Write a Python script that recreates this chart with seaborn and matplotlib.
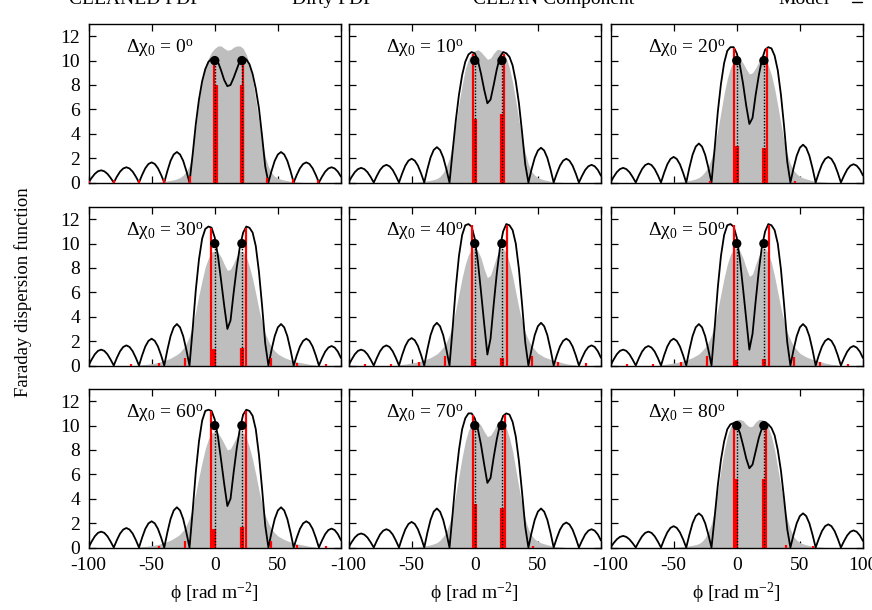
import numpy as np
import matplotlib
matplotlib.use("Agg")
import matplotlib.pyplot as plt
import seaborn as sns

# Faraday depth grids
phi = np.arange(-100, 100.1, 2.5)          # dirty FDF grid (81 points)
phi_cl = np.arange(-60, 80.1, 2.5)         # cleaned FDF grid (57 points)

dchi = [0, 10, 20, 30, 40, 50, 60, 70, 80]
xtick_vals = [-100, -50, 0, 50, 100]
xtick_labels_inner = ["-100", "-50", "0", "50", ""]
xtick_labels_last = ["-100", "-50", "0", "50", "100"]

# Dirty FDF (black line)
dirty_00 = [0, .38, .71, .92, 1.0, .92, .71, .38,
            0, .48, .89, 1.15, 1.25, 1.15, .89, .48,
            0, .63, 1.17, 1.52, 1.65, 1.52, 1.17, .63,
            0, .95, 1.78, 2.3, 2.5, 2.3, 1.78, .95,
            0, 2.3, 4.8, 6.8, 8.3, 9.3, 9.9, 10.15, 10.2, 9.9, 9.2, 8.4, 7.9,
            8.0, 8.6, 9.3, 10.0, 10.2, 10.1, 9.7, 8.9, 7.7, 6.1, 3.8, 1.3,
            0, .95, 1.78, 2.3, 2.5, 2.3, 1.78, .95,
            0, .63, 1.17, 1.52, 1.65, 1.52, 1.17, .63,
            0, .48, .89, 1.15, 1.25, 1.15, .89, .48]
dirty_10 = [0, .46, .85, 1.1, 1.2, 1.1, .85, .46,
            0, .55, 1.03, 1.33, 1.45, 1.33, 1.03, .55,
            0, .74, 1.38, 1.79, 1.95, 1.79, 1.38, .74,
            0, 1.1, 2.06, 2.67, 2.9, 2.67, 2.06, 1.1,
            0, 2.6, 5.1, 7.2, 8.8, 9.9, 10.5, 10.7, 10.6, 10.0, 8.9, 7.6, 6.5,
            6.8, 8.0, 9.3, 10.3, 10.7, 10.6, 10.3, 9.6, 8.3, 6.5, 4.1, 1.5,
            0, 1.08, 2.02, 2.62, 2.85, 2.62, 2.02, 1.08,
            0, .74, 1.38, 1.79, 1.95, 1.79, 1.38, .74,
            0, .55, 1.03, 1.33, 1.45, 1.33, 1.03, .55]
dirty_20 = [0, .46, .85, 1.1, 1.2, 1.1, .85, .46,
            0, .59, 1.1, 1.43, 1.55, 1.43, 1.1, .59,
            0, .8, 1.49, 1.93, 2.1, 1.93, 1.49, .8,
            0, 1.22, 2.27, 2.94, 3.2, 2.94, 2.27, 1.22,
            0, 2.8, 5.8, 8.1, 9.8, 10.8, 11.1, 11.1, 10.6, 9.6, 8.1, 6.3, 4.8,
            5.3, 7.2, 8.8, 10.1, 10.9, 11.1, 11.0, 10.4, 9.2, 7.2, 4.6, 1.7,
            0, 1.18, 2.2, 2.85, 3.1, 2.85, 2.2, 1.18,
            0, .8, 1.49, 1.93, 2.1, 1.93, 1.49, .8,
            0, .57, 1.07, 1.38, 1.5, 1.38, 1.07, .57]
dirty_30 = [0, .49, .92, 1.2, 1.3, 1.2, .92, .49,
            0, .63, 1.17, 1.52, 1.65, 1.52, 1.17, .63,
            0, .84, 1.56, 2.02, 2.2, 2.02, 1.56, .84,
            0, 1.29, 2.41, 3.13, 3.4, 3.13, 2.41, 1.29,
            0, 3.0, 6.2, 8.7, 10.4, 11.2, 11.4, 11.3, 10.5, 9.0, 7.0, 4.9, 3.0,
            3.7, 6.0, 8.1, 9.8, 10.9, 11.4, 11.3, 10.9, 9.8, 7.7, 4.9, 1.8,
            0, 1.29, 2.41, 3.13, 3.4, 3.13, 2.41, 1.29,
            0, .84, 1.56, 2.02, 2.2, 2.02, 1.56, .84,
            0, .61, 1.14, 1.47, 1.6, 1.47, 1.14, .61]
dirty_40 = [0, .49, .92, 1.2, 1.3, 1.2, .92, .49,
            0, .63, 1.17, 1.52, 1.65, 1.52, 1.17, .63,
            0, .86, 1.6, 2.07, 2.25, 2.07, 1.6, .86,
            0, 1.33, 2.49, 3.22, 3.5, 3.22, 2.49, 1.33,
            0, 3.1, 6.4, 9.0, 10.7, 11.5, 11.6, 11.4, 10.4, 8.5, 6.0, 3.4, 0.9,
            2.2, 5.0, 7.6, 9.7, 11.0, 11.6, 11.5, 11.1, 10.0, 7.9, 5.0, 1.9,
            0, 1.33, 2.49, 3.22, 3.5, 3.22, 2.49, 1.33,
            0, .84, 1.56, 2.02, 2.2, 2.02, 1.56, .84,
            0, .63, 1.17, 1.52, 1.65, 1.52, 1.17, .63]
dirty_50 = [0, .49, .92, 1.2, 1.3, 1.2, .92, .49,
            0, .61, 1.14, 1.47, 1.6, 1.47, 1.14, .61,
            0, .84, 1.56, 2.02, 2.2, 2.02, 1.56, .84,
            0, 1.29, 2.41, 3.13, 3.4, 3.13, 2.41, 1.29,
            0, 3.1, 6.4, 9.0, 10.7, 11.5, 11.6, 11.4, 10.5, 8.7, 6.3, 3.8, 1.3,
            2.6, 5.3, 7.8, 9.8, 11.0, 11.6, 11.5, 11.1, 10.0, 7.9, 5.0, 1.9,
            0, 1.29, 2.41, 3.13, 3.4, 3.13, 2.41, 1.29,
            0, .84, 1.56, 2.02, 2.2, 2.02, 1.56, .84,
            0, .61, 1.14, 1.47, 1.6, 1.47, 1.14, .61]
dirty_60 = [0, .49, .92, 1.2, 1.3, 1.2, .92, .49,
            0, .61, 1.14, 1.47, 1.6, 1.47, 1.14, .61,
            0, .82, 1.53, 1.98, 2.15, 1.98, 1.53, .82,
            0, 1.25, 2.34, 3.04, 3.3, 3.04, 2.34, 1.25,
            0, 3.0, 6.2, 8.7, 10.4, 11.2, 11.3, 11.2, 10.5, 9.1, 7.2, 5.2, 3.4,
            4.0, 6.2, 8.2, 9.8, 10.9, 11.3, 11.2, 10.8, 9.7, 7.6, 4.8, 1.8,
            0, 1.25, 2.34, 3.04, 3.3, 3.04, 2.34, 1.25,
            0, .82, 1.53, 1.98, 2.15, 1.98, 1.53, .82,
            0, .59, 1.1, 1.43, 1.55, 1.43, 1.1, .59]
dirty_70 = [0, .44, .82, 1.06, 1.15, 1.06, .82, .44,
            0, .57, 1.07, 1.38, 1.5, 1.38, 1.07, .57,
            0, .8, 1.49, 1.93, 2.1, 1.93, 1.49, .8,
            0, 1.22, 2.27, 2.94, 3.2, 2.94, 2.27, 1.22,
            0, 2.8, 5.7, 8.0, 9.7, 10.6, 11.0, 11.0, 10.6, 9.7, 8.4, 6.8, 5.3,
            5.7, 7.4, 8.9, 10.1, 10.8, 11.0, 10.9, 10.3, 9.1, 7.1, 4.5, 1.7,
            0, 1.22, 2.27, 2.94, 3.2, 2.94, 2.27, 1.22,
            0, .78, 1.46, 1.89, 2.05, 1.89, 1.46, .78,
            0, .57, 1.07, 1.38, 1.5, 1.38, 1.07, .57]
dirty_80 = [0, .36, .67, .87, .95, .87, .67, .36,
            0, .49, .92, 1.2, 1.3, 1.2, .92, .49,
            0, .67, 1.24, 1.61, 1.75, 1.61, 1.24, .67,
            0, 1.06, 1.99, 2.58, 2.8, 2.58, 1.99, 1.06,
            0, 2.5, 5.1, 7.2, 8.7, 9.7, 10.1, 10.2, 10.0, 9.4, 8.4, 7.3, 6.5,
            6.8, 7.9, 9.0, 9.8, 10.2, 10.1, 9.8, 9.2, 8.0, 6.3, 4.0, 1.5,
            0, 1.06, 1.99, 2.58, 2.8, 2.58, 1.99, 1.06,
            0, .72, 1.35, 1.75, 1.9, 1.75, 1.35, .72,
            0, .53, .99, 1.29, 1.4, 1.29, .99, .53]

# CLEANED FDF (grey fill)
cleaned_00 = [0, 0, 0, 0, 0, .03, .05, .07, .1, .13, .17, .22, .3, .4, .6, .9, 1.4,
              2.6, 4.6, 6.7, 8.3, 9.5, 10.2, 10.7, 11.0, 11.2, 11.2, 11.0, 10.85,
              10.9, 11.1, 11.2, 11.2, 11.0, 10.5, 9.7, 8.4, 6.8, 5.0, 3.4, 2.1,
              1.3, .8, .5, .35, .27, .2, .15, .1, .07, .05, .03, 0, 0, 0, 0, 0]
cleaned_10 = [0, 0, 0, 0, 0, .03, .05, .08, .1, .14, .18, .24, .32, .5, .8, 1.3, 2.0,
              3.2, 4.8, 6.5, 8.0, 9.3, 10.1, 10.6, 10.8, 10.9, 10.7, 10.4, 10.1,
              10.2, 10.6, 10.9, 10.9, 10.7, 10.2, 9.4, 8.2, 6.7, 5.1, 3.6, 2.4,
              1.5, .9, .6, .4, .3, .22, .16, .1, .07, .05, .03, 0, 0, 0, 0, 0]
cleaned_20 = [0, 0, .01, .02, .03, .05, .07, .1, .13, .17, .22, .3, .4, .6, .9, 1.3, 2.0,
              3.0, 4.3, 5.8, 7.3, 8.5, 9.4, 9.9, 10.1, 10.1, 9.8, 9.3, 8.9,
              9.0, 9.4, 9.9, 10.1, 10.0, 9.6, 8.8, 7.7, 6.3, 4.8, 3.4, 2.3,
              1.5, 1.0, .7, .5, .38, .3, .22, .15, .1, .07, .05, .03, 0, 0, 0, 0]
cleaned_30 = [.05, .07, .09, .12, .15, .2, .25, .32, .4, .5, .6, .75, .9, 1.1, 1.4, 1.8, 2.4,
              3.3, 4.5, 5.8, 7.0, 8.1, 8.8, 9.3, 9.4, 9.3, 8.9, 8.3, 7.8,
              7.9, 8.4, 9.0, 9.4, 9.3, 8.9, 8.1, 7.1, 5.9, 4.6, 3.5, 2.6,
              2.0, 1.5, 1.2, .95, .8, .65, .55, .45, .37, .3, .25, .2, .15, .1, .07, .05]
cleaned_40 = [.07, .09, .12, .16, .2, .25, .3, .37, .45, .55, .65, .8, .95, 1.2, 1.5, 1.9, 2.5,
              3.4, 4.6, 5.9, 7.2, 8.3, 9.1, 9.5, 9.6, 9.4, 8.8, 7.9, 7.2,
              7.4, 8.2, 9.0, 9.5, 9.6, 9.2, 8.4, 7.3, 6.0, 4.7, 3.6, 2.7,
              2.1, 1.6, 1.3, 1.0, .85, .7, .6, .5, .42, .35, .28, .2, .15, .1, .07, .05]
cleaned_50 = [.07, .09, .12, .16, .2, .25, .3, .37, .45, .55, .65, .8, .95, 1.2, 1.5, 1.9, 2.5,
              3.4, 4.6, 5.9, 7.2, 8.3, 9.1, 9.5, 9.6, 9.4, 8.8, 8.0, 7.3,
              7.5, 8.3, 9.0, 9.5, 9.6, 9.2, 8.4, 7.3, 6.0, 4.7, 3.6, 2.7,
              2.1, 1.6, 1.3, 1.0, .85, .7, .6, .5, .42, .35, .28, .2, .15, .1, .07, .05]
cleaned_60 = [.05, .07, .09, .12, .15, .2, .25, .32, .4, .5, .6, .75, .9, 1.1, 1.4, 1.8, 2.4,
              3.3, 4.5, 5.8, 7.0, 8.1, 8.9, 9.4, 9.5, 9.4, 9.0, 8.5, 8.0,
              8.1, 8.6, 9.1, 9.5, 9.4, 9.0, 8.2, 7.2, 6.0, 4.7, 3.5, 2.6,
              2.0, 1.5, 1.2, .95, .8, .65, .55, .45, .37, .3, .25, .2, .15, .1, .07, .05]
cleaned_70 = [0, 0, .01, .02, .03, .05, .07, .1, .13, .17, .22, .3, .4, .6, .9, 1.3, 2.0,
              3.0, 4.4, 5.9, 7.4, 8.7, 9.6, 10.1, 10.3, 10.3, 10.0, 9.5, 9.1,
              9.2, 9.6, 10.1, 10.3, 10.2, 9.8, 9.0, 7.9, 6.4, 4.9, 3.5, 2.3,
              1.5, 1.0, .7, .5, .38, .3, .22, .15, .1, .07, .05, .03, 0, 0, 0, 0]
cleaned_80 = [0, 0, 0, 0, 0, .03, .05, .08, .1, .14, .18, .24, .32, .5, .8, 1.3, 2.0,
              3.1, 4.7, 6.4, 7.9, 9.1, 9.9, 10.3, 10.5, 10.5, 10.4, 10.1, 9.9,
              9.95, 10.3, 10.5, 10.5, 10.3, 9.9, 9.1, 8.0, 6.5, 5.0, 3.5, 2.3,
              1.5, .9, .6, .4, .3, .22, .16, .1, .07, .05, .03, 0, 0, 0, 0, 0]

# CLEAN components (red impulses)
comp_phi_00 = [-100, -80, -60, -40, -19.5, -0.5, 0.5, 1.5, 21.0, 22.0, 22.5, 41.5, 62, 82]
comp_amp_00 = [0.1, 0.2, 0.2, 0.25, 0.5, 9.9, 8.0, 8.0, 8.0, 8.0, 10.0, 0.4, 0.25, 0.2]
comp_phi_10 = [-1.5, -0.5, 0.8, 20.5, 21.8, 23.0]
comp_amp_10 = [10.5, 5.2, 5.2, 5.6, 5.6, 10.5]
comp_phi_20 = [-21, -2.0, -0.8, 0.6, 21.0, 22.4, 24.0, 46]
comp_amp_20 = [0.15, 11.0, 3.0, 3.0, 2.8, 2.8, 11.0, 0.15]
comp_phi_30 = [-66, -44.5, -23.5, -3.0, -1.5, 0.0, 20.8, 22.3, 24.8, 44.5, 65.5, 88]
comp_amp_30 = [0.1, 0.2, 0.6, 11.3, 1.35, 1.35, 1.45, 1.45, 11.3, 0.6, 0.2, 0.1]
comp_phi_40 = [-87, -66, -44.5, -23.5, -2.5, -1.0, 0.3, 21.0, 22.4, 25.5, 45, 66, 88]
comp_amp_40 = [0.1, 0.15, 0.3, 0.75, 11.5, 0.5, 0.5, 0.6, 0.6, 11.5, 0.75, 0.3, 0.2]
comp_phi_50 = [-87, -66, -44.5, -23.5, -2.5, -1.0, 0.3, 21.0, 22.4, 25.8, 45, 66, 88]
comp_amp_50 = [0.1, 0.1, 0.25, 0.75, 11.5, 0.45, 0.45, 0.5, 0.5, 11.5, 0.7, 0.25, 0.15]
comp_phi_60 = [-44.5, -23.5, -3.0, -1.5, 0.0, 20.5, 22.0, 25.0, 44.5, 65.5, 88]
comp_amp_60 = [0.15, 0.5, 11.2, 1.5, 1.5, 1.7, 1.7, 11.2, 0.5, 0.2, 0.1]
comp_phi_70 = [-1.5, -0.5, 1.0, 21.0, 22.5, 24.0, 46]
comp_amp_70 = [10.9, 3.6, 3.6, 3.2, 3.2, 10.9, 0.1]
comp_phi_80 = [-2.0, -1.0, 0.5, 20.5, 22.0, 23.0, 39, 60]
comp_amp_80 = [10.1, 5.6, 5.6, 5.6, 5.6, 10.1, 0.2, 0.1]

# Model
model_phi = [0.0, 21.5]
model_amp = [10.0, 10.0]

dirty = [dirty_00, dirty_10, dirty_20, dirty_30, dirty_40, dirty_50, dirty_60, dirty_70, dirty_80]
cleaned = [cleaned_00, cleaned_10, cleaned_20, cleaned_30, cleaned_40, cleaned_50,
           cleaned_60, cleaned_70, cleaned_80]
comp_phi = [comp_phi_00, comp_phi_10, comp_phi_20, comp_phi_30, comp_phi_40, comp_phi_50,
            comp_phi_60, comp_phi_70, comp_phi_80]
comp_amp = [comp_amp_00, comp_amp_10, comp_amp_20, comp_amp_30, comp_amp_40, comp_amp_50,
            comp_amp_60, comp_amp_70, comp_amp_80]

sns.set_theme(style="ticks")
plt.rcParams["font.family"] = ["Liberation Serif", "DejaVu Serif"]
plt.rcParams["mathtext.default"] = "regular"
plt.rcParams["axes.unicode_minus"] = False
plt.rcParams["axes.edgecolor"] = "black"
plt.rcParams["xtick.color"] = "black"
plt.rcParams["ytick.color"] = "black"
plt.rcParams["text.color"] = "black"

W, H = 872, 610
fig = plt.figure(figsize=(W / 100, H / 100), dpi=100)

col_left = [88.5, 348.5, 610.5]
row_top = [24, 207, 389]
aw, ah = 252.5, 158.5

for k in range(9):
    r, c = divmod(k, 3)
    ax = fig.add_axes([col_left[c] / W, 1 - (row_top[r] + ah) / H, aw / W, ah / H])
    ax.fill_between(phi_cl, cleaned[k], color="#bebebe", lw=0, zorder=1)
    sns.lineplot(x=phi, y=dirty[k], color="black", lw=1.3, ax=ax, zorder=3)
    ax.vlines(comp_phi[k], 0, comp_amp[k], color="red", lw=1.6, zorder=4)
    ax.vlines(model_phi, 0, model_amp, color="black", lw=1.0, linestyles=(0, (1, 1.2)), zorder=5)
    sns.scatterplot(x=model_phi, y=model_amp, color="black", s=45, edgecolor="none",
                    ax=ax, zorder=6)
    ax.set_xlim(-100, 100)
    ax.set_ylim(0, 13)
    ax.set_xticks(xtick_vals)
    ax.set_xticklabels(xtick_labels_last if c == 2 else xtick_labels_inner)
    ax.set_yticks([0, 2, 4, 6, 8, 10, 12])
    ax.tick_params(direction="in", top=True, right=True, length=5, width=0.9,
                   labelsize=14, pad=6)
    ax.tick_params(axis="x", pad=7)
    if c != 0:
        ax.tick_params(labelleft=False)
    if r != 2:
        ax.tick_params(labelbottom=False)
    for s in ax.spines.values():
        s.set_linewidth(1.0)
        s.set_color("black")
    ax.set_xlabel("")
    ax.set_ylabel("")
    ax.text(0.15, 0.82, r"Δχ$_0$ = %d$^o$" % dchi[k], transform=ax.transAxes,
            fontsize=14, va="baseline", ha="left")
    if r == 2:
        ax.text(0.5, -0.29, r"ϕ [rad m$^{-2}$]", transform=ax.transAxes,
                fontsize=14, ha="center", va="center")

fig.text(23 / W, 1 - 292 / H, "Faraday dispersion function", rotation=90,
         fontsize=13.5, ha="center", va="center")

# legend row, cut off at the top edge as in the original
for label, xr in [("CLEANED FDF", 201), ("Dirty FDF", 374),
                  ("CLEAN Component", 634), ("Model", 830)]:
    fig.text(xr / W, 1 - 3.5 / H, label, fontsize=14, ha="right", va="baseline")
fig.add_artist(plt.Line2D([852 / W, 862 / W], [1 - 1.5 / H, 1 - 1.5 / H],
                          color="black", lw=1.0, transform=fig.transFigure))

fig.savefig("out.png", dpi=100)
